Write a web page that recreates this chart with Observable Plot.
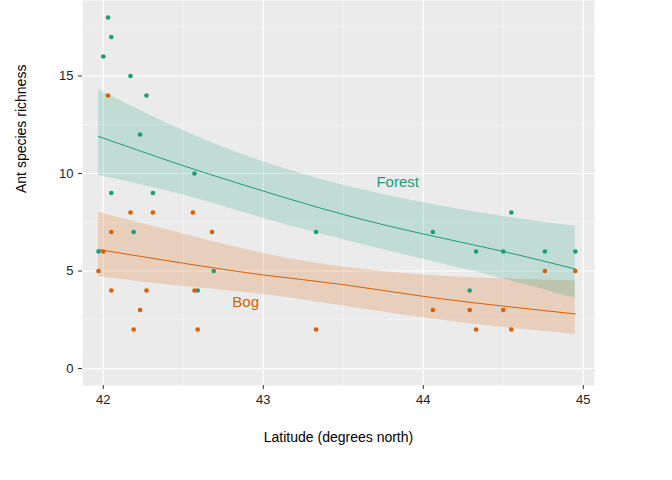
<!DOCTYPE html>
<html>
<head>
<meta charset="utf-8">
<script src="https://cdn.jsdelivr.net/npm/d3@7"></script>
<script src="https://cdn.jsdelivr.net/npm/@observablehq/plot@0.6"></script>
<style>body{margin:0;background:#fff;font-family:"Liberation Sans",Arial,sans-serif}</style>
</head>
<body>
<div id="chart"></div>
<script>
// observed richness
const forestLat = [41.97,42.00,42.03,42.05,42.05,42.17,42.19,42.23,42.27,42.31,42.57,42.59,42.69,43.33,44.06,44.29,44.33,44.50,44.55,44.76,44.95];
const forestRich = [6,16,18,17,9,15,7,12,14,9,10,4,5,7,7,4,6,6,8,6,6];
const bogLat = [41.97,42.00,42.03,42.05,42.05,42.17,42.19,42.23,42.27,42.31,42.56,42.57,42.59,42.68,43.33,44.06,44.29,44.33,44.50,44.55,44.76,44.95];
const bogRich = [5,6,14,7,4,8,2,3,4,8,8,4,2,7,2,3,3,2,3,2,5,5];

// fitted curves
const fitLat = [41.97,42.5,43,43.5,44,44.5,44.95];
const forestFit = [11.9,10.4,9.1,7.9,6.9,6.0,5.1];
const forestLo = [9.9,8.9,7.7,6.6,5.6,4.6,3.6];
const forestHi = [14.3,12.2,10.6,9.4,8.5,7.8,7.3];
const bogFit = [6.1,5.4,4.8,4.3,3.7,3.2,2.8];
const bogLo = [4.7,4.2,3.8,3.2,2.6,2.1,1.75];
const bogHi = [8.0,6.9,5.9,5.2,4.8,4.6,4.5];

const green = "#1b9e77", orange = "#d95f02";
const pts = (lat, r) => lat.map((x, i) => ({x, y: r[i]}));
const fit = (f, lo, hi) => fitLat.map((x, i) => ({x, y: f[i], lo: lo[i], hi: hi[i]}));
const forestPts = pts(forestLat, forestRich), bogPts = pts(bogLat, bogRich);
const forestCurve = fit(forestFit, forestLo, forestHi), bogCurve = fit(bogFit, bogLo, bogHi);

const chart = Plot.plot({
  width: 672, height: 480,
  marginLeft: 82, marginRight: 78, marginTop: 0, marginBottom: 95,
  style: {fontSize: "13px", fontFamily: "Liberation Sans, Arial, sans-serif", color: "#222"},
  x: {domain: [41.87, 45.07], label: null},
  y: {domain: [-0.87, 18.87], label: null},
  marks: [
    Plot.frame({fill: "#ebebeb", stroke: null}),
    Plot.gridX([42.5,43.5,44.5], {stroke: "white", strokeOpacity: 1, strokeWidth: 0.5}),
    Plot.gridY([2.5,7.5,12.5,17.5], {stroke: "white", strokeOpacity: 1, strokeWidth: 0.5}),
    Plot.gridX([42,43,44,45], {stroke: "white", strokeOpacity: 1, strokeWidth: 1.1}),
    Plot.gridY([0,5,10,15], {stroke: "white", strokeOpacity: 1, strokeWidth: 1.1}),
    Plot.areaY(bogCurve, {x: "x", y1: "lo", y2: "hi", fill: orange, fillOpacity: 0.2, curve: "natural"}),
    Plot.areaY(forestCurve, {x: "x", y1: "lo", y2: "hi", fill: green, fillOpacity: 0.2, curve: "natural"}),
    Plot.line(bogCurve, {x: "x", y: "y", stroke: orange, strokeWidth: 1, curve: "natural"}),
    Plot.line(forestCurve, {x: "x", y: "y", stroke: green, strokeWidth: 1, curve: "natural"}),
    Plot.dot(forestPts, {x: "x", y: "y", r: 2.3, fill: green}),
    Plot.dot(bogPts, {x: "x", y: "y", r: 2.3, fill: orange}),
    Plot.text([{x: 43.84, y: 9.55, t: "Forest"}], {x: "x", y: "y", text: "t", fill: green, fontSize: 15}),
    Plot.text([{x: 42.89, y: 3.4, t: "Bog"}], {x: "x", y: "y", text: "t", fill: orange, fontSize: 15}),
    Plot.axisX({ticks: [42,43,44,45], tickFormat: "d", tickSize: 4, tickPadding: 5, stroke: "#333", fill: "#222", label: null}),
    Plot.axisY({ticks: [0,5,10,15], tickSize: 4, stroke: "#333", fill: "#222", label: null}),
    Plot.text(["Latitude (degrees north)"], {frameAnchor: "bottom", dy: 56, fill: "black", fontSize: 14}),
    Plot.text(["Ant species richness"], {frameAnchor: "left", dx: -61, rotate: -90, fill: "black", fontSize: 14})
  ]
});
document.getElementById("chart").append(chart);
</script>
</body>
</html>
